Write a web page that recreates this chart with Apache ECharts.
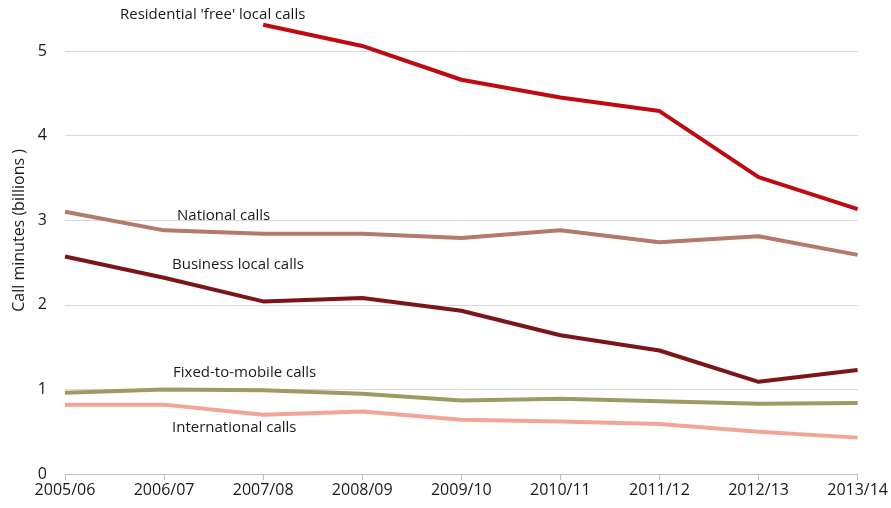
<!DOCTYPE html>
<html>
<head>
<meta charset="utf-8">
<script src="https://cdn.jsdelivr.net/npm/echarts@6/dist/echarts.min.js"></script>
<style>
  html, body { margin: 0; padding: 0; background: #fff; }
  #chart { width: 891px; height: 508px; }
</style>
</head>
<body>
<div id="chart"></div>
<script>
// Fiscal years on the horizontal axis
const years = ['2005/06', '2006/07', '2007/08', '2008/09', '2009/10', '2010/11', '2011/12', '2012/13', '2013/14'];

// Call minutes, billions
const residentialFree = [null, null, 5.31, 5.06, 4.66, 4.45, 4.29, 3.51, 3.13];
const nationalCalls = [3.10, 2.88, 2.84, 2.84, 2.79, 2.88, 2.74, 2.81, 2.59];
const businessLocal = [2.57, 2.32, 2.04, 2.08, 1.93, 1.64, 1.46, 1.09, 1.23];
const fixedToMobile = [0.96, 1.00, 0.99, 0.95, 0.87, 0.89, 0.86, 0.83, 0.84];
const internationalCalls = [0.82, 0.82, 0.70, 0.74, 0.64, 0.62, 0.59, 0.50, 0.43];

const yTicks = [0, 1, 2, 3, 4, 5];

const FONT = '"Open Sans", "Liberation Sans", sans-serif';

const chart = echarts.init(document.getElementById('chart'), null, { renderer: 'canvas' });

function lineSeries(name, data, color) {
  return {
    name: name,
    type: 'line',
    data: data,
    symbol: 'none',
    clip: false,
    connectNulls: false,
    lineStyle: { color: color, width: 4, join: 'round' },
    itemStyle: { color: color }
  };
}

function note(text, x, y) {
  return {
    type: 'text',
    left: x,
    top: y,
    style: { text: text, font: '15px ' + FONT, fill: '#1a1a1a' }
  };
}

chart.setOption({
  animation: false,
  backgroundColor: '#ffffff',
  grid: { left: 65, right: 33, top: 51, bottom: 34 },
  xAxis: {
    type: 'category',
    data: years,
    boundaryGap: false,
    axisLine: { lineStyle: { color: '#BFBFBF', width: 1 } },
    axisTick: { show: true, length: 6, lineStyle: { color: '#BFBFBF' }, alignWithLabel: true },
    axisLabel: { color: '#1a1a1a', fontSize: 16, fontFamily: FONT, margin: 8, interval: 0 }
  },
  yAxis: {
    type: 'value',
    min: yTicks[0],
    max: yTicks[yTicks.length - 1],
    interval: 1,
    axisLine: { show: false },
    axisTick: { show: false },
    axisLabel: { color: '#1a1a1a', fontSize: 16, fontFamily: FONT, margin: 18 },
    splitLine: { lineStyle: { color: '#D9D9D9', width: 1 } }
  },
  graphic: [
    {
      type: 'text',
      left: 11,
      top: 149,
      rotation: Math.PI / 2,
      style: { text: 'Call minutes (billions )', font: '16px ' + FONT, fill: '#1a1a1a' }
    },
    note("Residential 'free' local calls", 120, 7),
    note('National calls', 177, 208),
    note('Business local calls', 172, 257),
    note('Fixed-to-mobile calls', 173, 365),
    note('International calls', 172, 420)
  ],
  series: [
    lineSeries("Residential 'free' local calls", residentialFree, '#BF0A12'),
    lineSeries('National calls', nationalCalls, '#B3796A'),
    lineSeries('Business local calls', businessLocal, '#7C1517'),
    lineSeries('Fixed-to-mobile calls', fixedToMobile, '#9E9A63'),
    lineSeries('International calls', internationalCalls, '#F2A497')
  ]
});
</script>
</body>
</html>
